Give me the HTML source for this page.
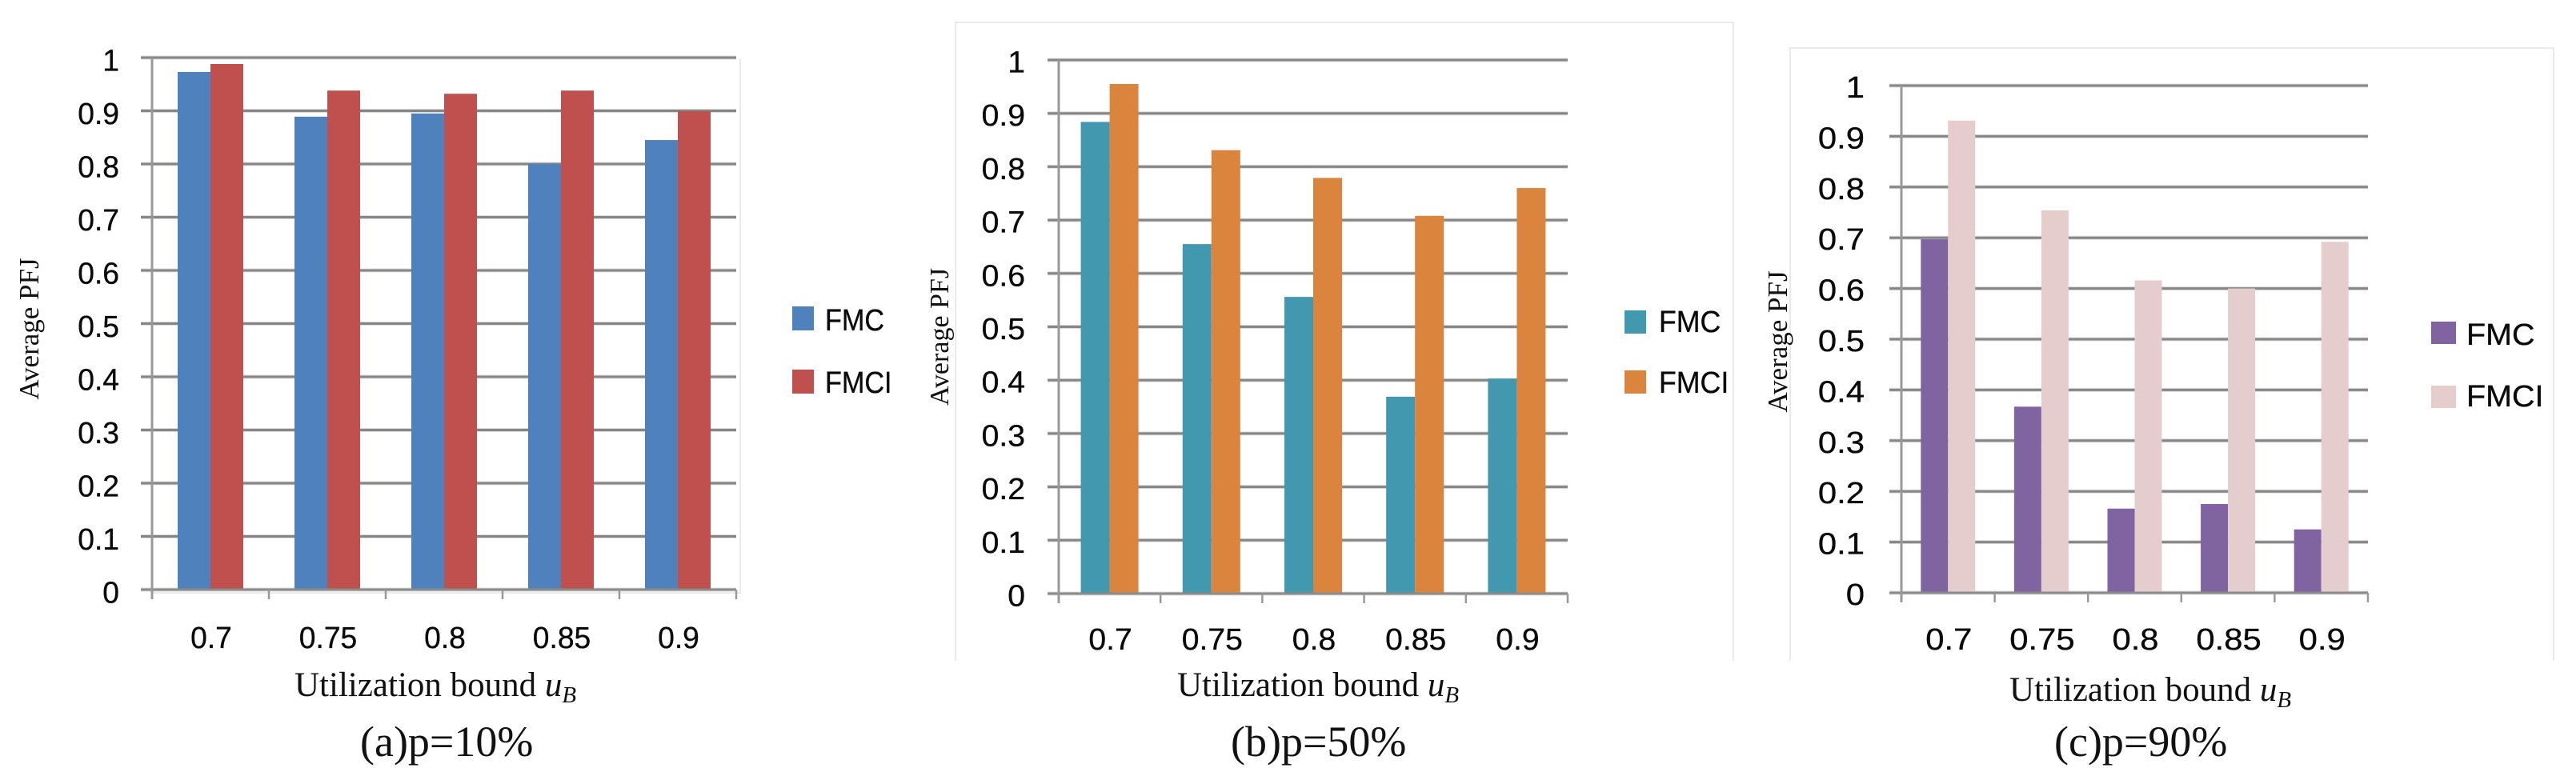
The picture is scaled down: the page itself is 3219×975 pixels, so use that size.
<!DOCTYPE html>
<html lang="en">
<head>
<meta charset="utf-8">
<title>Average PFJ versus utilization bound</title>
<style>
  html, body { margin: 0; padding: 0; background: #fff; }
  svg { display: block; }
  .serif { font-family: "Liberation Serif", serif; fill: #111; }
  .sans { font-family: "Liberation Sans", sans-serif; fill: #0a0a0a; stroke: #0a0a0a; stroke-width: 0.35; }
</style>
</head>
<body>
<svg id="figure" xmlns="http://www.w3.org/2000/svg" width="3219" height="975" viewBox="0 0 3219 975">
  <rect x="0" y="0" width="3219" height="975" fill="#ffffff"/>

  <g id="frames" fill="none" stroke="#e3e3e3" stroke-width="1.5">
    <path d="M925 74V741H190"/>
    <path d="M1194 826V28H2166V826"/>
    <path d="M2237 826V60H3191V826"/>
  </g>

  <g id="chart-a"></g>
  <g id="chart-b"></g>
  <g id="chart-c"></g>

  <text class="serif" font-size="35" text-anchor="middle" transform="translate(48,411) rotate(-90)">Average PFJ</text>
  <text class="serif" font-size="34" text-anchor="middle" transform="translate(1185,421) rotate(-90)">Average PFJ</text>
  <text class="serif" font-size="35" text-anchor="middle" transform="translate(2233,427) rotate(-90)">Average PFJ</text>

  <text class="serif" font-size="43" x="368" y="870">Utilization bound <tspan font-style="italic">u</tspan><tspan font-style="italic" font-size="29" dy="8">B</tspan></text>
  <text class="serif" font-size="43" x="1471" y="870">Utilization bound <tspan font-style="italic">u</tspan><tspan font-style="italic" font-size="29" dy="8">B</tspan></text>
  <text class="serif" font-size="43" x="2511" y="876">Utilization bound <tspan font-style="italic">u</tspan><tspan font-style="italic" font-size="29" dy="8">B</tspan></text>

  <text class="serif" font-size="54" x="450" y="945">(a)p=10%</text>
  <text class="serif" font-size="54" x="1538" y="945">(b)p=50%</text>
  <text class="serif" font-size="54" x="2567" y="945">(c)p=90%</text>
</svg>

<script>
const categories = ['0.7', '0.75', '0.8', '0.85', '0.9'];
const yTicks = [0, 0.1, 0.2, 0.3, 0.4, 0.5, 0.6, 0.7, 0.8, 0.9, 1];
const seriesNames = ['FMC', 'FMCI'];

const fmcP10 = [0.973, 0.889, 0.895, 0.80, 0.845];
const fmciP10 = [0.988, 0.938, 0.932, 0.938, 0.899];
const fmcP50 = [0.884, 0.655, 0.556, 0.369, 0.403];
const fmciP50 = [0.955, 0.831, 0.779, 0.708, 0.76];
const fmcP90 = [0.697, 0.367, 0.166, 0.175, 0.125];
const fmciP90 = [0.931, 0.754, 0.616, 0.60, 0.692];

const SVG_NS = 'http://www.w3.org/2000/svg';

function make(parent, tag, attrs, text) {
  const el = document.createElementNS(SVG_NS, tag);
  for (const k in attrs) el.setAttribute(k, attrs[k]);
  if (text !== undefined) el.textContent = text;
  parent.appendChild(el);
  return el;
}

function drawChart(cfg, fmc, fmci) {
  const root = document.getElementById(cfg.id);
  const yScale = v => cfg.y0 + (cfg.y1 - cfg.y0) * v;
  const catW = (cfg.right - cfg.left) / categories.length;
  const catCenter = i => cfg.left + catW * (i + 0.5);

  yTicks.forEach(t => {
    const halo = make(root, 'line', { x1: cfg.gridStart, x2: cfg.right, y1: yScale(t), y2: yScale(t), stroke: '#dddddd', 'stroke-width': 5 });
    
    
    const line = make(root, 'line', { x1: cfg.gridStart, x2: cfg.right, y1: yScale(t), y2: yScale(t), stroke: '#868686', 'stroke-width': 3 });
    
    
    const label = make(root, 'text', { class: 'sans', 'font-size': 38, 'text-anchor': 'end', transform: `translate(${cfg.tickRight},${yScale(t) + cfg.tickDy}) scale(${cfg.tickSx},1)` }, String(t));
    
    
  });

  categories.forEach((c, i) => {
    const cx = catCenter(i);
    const h0 = cfg.y0 - yScale(fmc[i]);
    const b0 = make(root, 'rect', { x: cx - cfg.barW, y: yScale(fmc[i]), width: cfg.barW, height: h0, fill: cfg.colors[0] });
    
    
    const h1 = cfg.y0 - yScale(fmci[i]);
    const b1 = make(root, 'rect', { x: cx, y: yScale(fmci[i]), width: cfg.barW, height: h1, fill: cfg.colors[1] });
    
    
    const xl = make(root, 'text', { class: 'sans', 'font-size': 38, 'text-anchor': 'middle', transform: `translate(${cx + 1},${cfg.catBase}) scale(${cfg.tickSx},1)` }, c);
    
    
  });

  const xAxis = make(root, 'line', { x1: cfg.gridStart, x2: cfg.right, y1: cfg.y0, y2: cfg.y0, stroke: '#8b8b8b', 'stroke-width': 3 });
  
  
  const yAxis = make(root, 'line', { x1: cfg.left, x2: cfg.left, y1: cfg.y1, y2: cfg.y0 + 12, stroke: '#999999', 'stroke-width': 3 });
  
  
  for (let i = 1; i <= categories.length; i++) {
    const x = cfg.left + catW * i;
    const tick = make(root, 'line', { x1: x, x2: x, y1: cfg.y0, y2: cfg.y0 + 12, stroke: '#999999', 'stroke-width': 2.5 });
    
    
  }

  seriesNames.forEach((name, i) => {
    const sw = make(root, 'rect', { x: cfg.swatchX, y: cfg.swatchY[i], width: cfg.swatchW, height: cfg.swatchH, fill: cfg.colors[i] });
    
    
    const lt = make(root, 'text', { class: 'sans', 'font-size': 38, transform: `translate(${cfg.legendX},${cfg.legendBase[i]}) scale(${cfg.legendSx},1)` }, name);
    
    
  });
}

drawChart({
  id: 'chart-a', left: 190, right: 920, gridStart: 176, y0: 737, y1: 72, barW: 41,
  colors: ['#4f81bd', '#c0504d'], tickRight: 149, tickDy: 16.5, tickSx: 0.98, catBase: 810,
  swatchX: 990, swatchY: [383, 462], swatchW: 27, swatchH: 30,
  legendX: 1031, legendBase: [413, 491], legendSx: 0.9
}, fmcP10, fmciP10);

drawChart({
  id: 'chart-b', left: 1323, right: 1959, gridStart: 1309, y0: 742, y1: 75, barW: 36,
  colors: ['#4198af', '#db843d'], tickRight: 1281, tickDy: 15.5, tickSx: 1.03, catBase: 812,
  swatchX: 2030, swatchY: [388, 463], swatchW: 27, swatchH: 29,
  legendX: 2073, legendBase: [415, 491], legendSx: 0.94
}, fmcP50, fmciP50);

drawChart({
  id: 'chart-c', left: 2376, right: 2959, gridStart: 2361, y0: 741, y1: 107, barW: 34,
  colors: ['#8064a2', '#e6cdcd'], tickRight: 2330, tickDy: 15, tickSx: 1.1, catBase: 812,
  swatchX: 3038, swatchY: [402, 482], swatchW: 31, swatchH: 28,
  legendX: 3082, legendBase: [431, 508], legendSx: 1.04
}, fmcP90, fmciP90);
</script>
</body>
</html>
